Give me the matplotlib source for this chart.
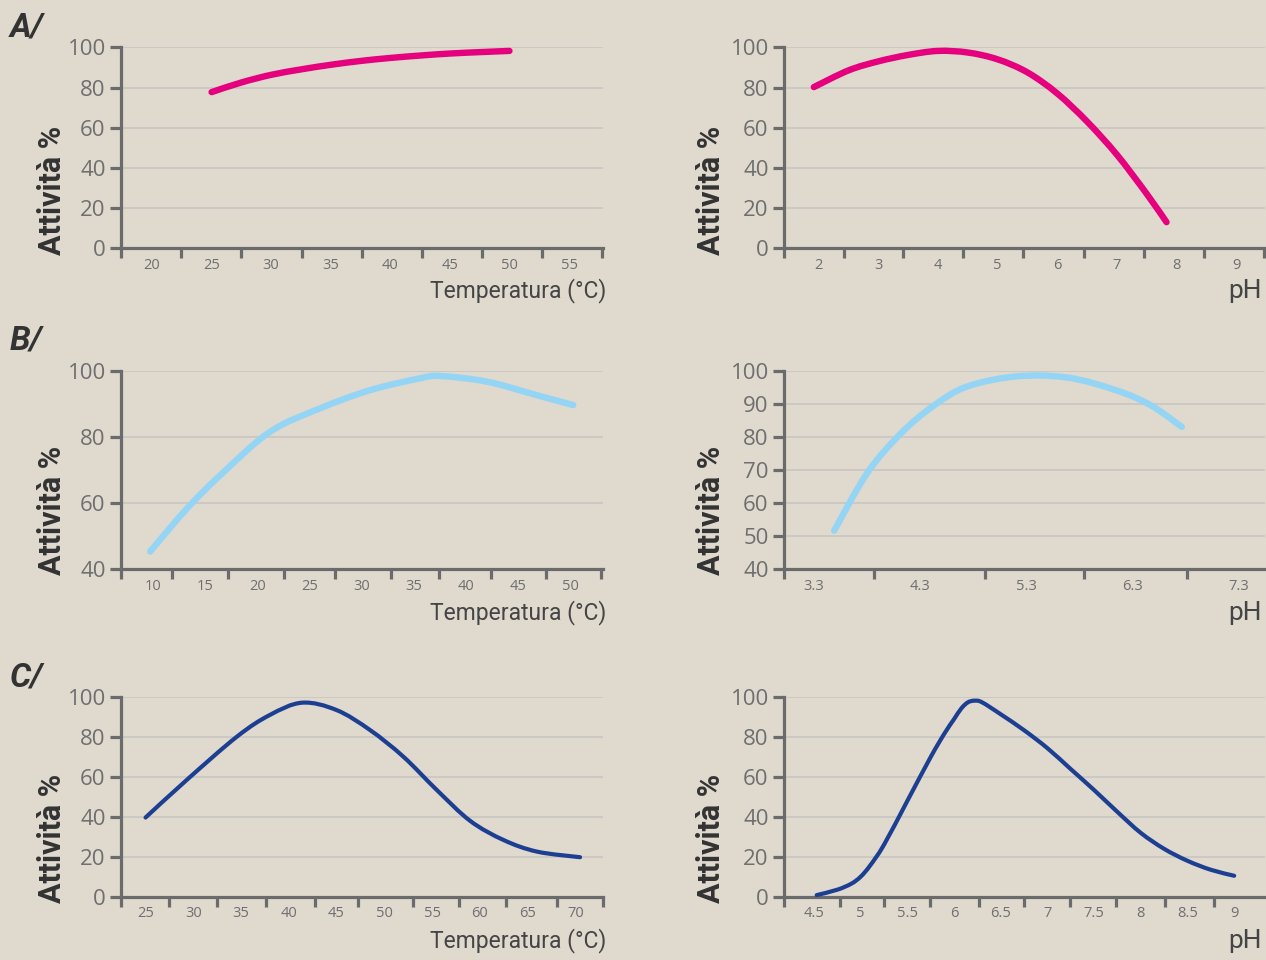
import matplotlib
matplotlib.use("Agg")
import matplotlib.pyplot as plt
import numpy as np
from matplotlib.path import Path
from matplotlib.patches import PathPatch
from matplotlib.ticker import FixedLocator, NullFormatter

# Data
a_temp_x = [25.0, 27.5, 30.0, 32.5, 35.0, 37.5, 40.0, 42.5, 45.0, 47.5, 50.0]
a_temp_y = [77.7, 82.5, 86.3, 89.0, 91.3, 93.2, 94.7, 95.9, 96.9, 97.6, 98.2]

a_ph_x = [1.92, 2.5, 3.0, 3.5, 4.0, 4.5, 5.0, 5.5, 6.0, 6.5, 7.0, 7.5, 7.83]
a_ph_y = [80.2, 88.5, 93.0, 96.2, 98.2, 97.4, 94.0, 87.5, 77.0, 63.0, 46.5, 27.0, 13.0]

b_temp_x = [9.7, 13.2, 16.4, 21.2, 26.0, 30.8, 35.6, 37.5, 42.0, 46.8, 50.3]
b_temp_y = [45.3, 58.2, 68.3, 81.5, 88.6, 94.1, 97.7, 98.4, 96.7, 92.6, 89.6]

b_ph_x = [3.49, 3.8, 4.12, 4.43, 4.74, 5.21, 5.69, 6.15, 6.47, 6.76]
b_ph_y = [51.6, 69.0, 81.1, 89.5, 95.2, 98.3, 97.9, 94.0, 89.5, 83.0]

c_temp_x = [25.0, 29.3, 34.55, 38.0, 41.4, 45.0, 48.5, 52.0, 55.5, 59.0, 62.5, 66.0, 70.5]
c_temp_y = [39.7, 58.5, 80.2, 91.1, 97.3, 93.6, 83.6, 70.2, 53.5, 38.0, 28.4, 22.6, 19.8]

c_ph_x = [4.53, 4.75, 4.9, 5.0, 5.1, 5.25, 5.5, 5.75, 5.9, 6.0, 6.08, 6.15, 6.22, 6.3, 6.5,
          6.75, 7.0, 7.25, 7.5, 7.75, 8.0, 8.25, 8.5, 8.75, 9.0]
c_ph_y = [0.8, 3.5, 6.5, 10.0, 15.5, 26.0, 48.0, 70.0, 82.0, 89.0, 94.5, 97.5, 98.3, 97.5, 91.5,
          83.5, 74.5, 64.0, 53.5, 42.5, 32.0, 24.0, 18.0, 13.5, 10.5]

# tick labels and tick mark positions (marks sit between labels)
a_temp_labels = [20, 25, 30, 35, 40, 45, 50, 55]
a_temp_marks = [17.4, 22.45, 27.5, 32.55, 37.6, 42.65, 47.7, 52.75, 57.8]
a_ph_labels = [2, 3, 4, 5, 6, 7, 8, 9]
a_ph_marks = [1.42, 2.42, 3.42, 4.42, 5.43, 6.44, 7.46, 8.46, 9.46]
b_temp_labels = [10, 15, 20, 25, 30, 35, 40, 45, 50]
b_temp_marks = [6.9, 11.82, 17.2, 22.57, 27.46, 32.83, 37.41, 42.37, 47.67, 53.0]
b_ph_labels = [3.3, 4.3, 5.3, 6.3, 7.3]
b_ph_marks = [3.02, 3.86, 4.91, 5.84, 6.81]
c_temp_labels = [25, 30, 35, 40, 45, 50, 55, 60, 65, 70]
c_temp_marks = [22.43, 27.5, 32.46, 37.6, 42.75, 47.2, 53.0, 57.86, 62.75, 68.06, 72.9]
c_ph_labels = [4.5, 5, 5.5, 6, 6.5, 7, 7.5, 8, 8.5, 9]
c_ph_marks = [4.18, 4.78, 5.25, 5.74, 6.27, 6.75, 7.24, 7.73, 8.26, 8.78]

bg = '#dfd9ce'
spine_col = '#6b6b6b'
tick_txt = '#6f6f6f'
dark = '#333333'
W, H = 1266, 960

fig = plt.figure(figsize=(W / 100, H / 100), dpi=100, facecolor=bg)


def px_rect(x0, y0, x1, y1):
    return [x0 / W, 1 - y1 / H, (x1 - x0) / W, (y1 - y0) / H]


def smooth_path(x, y):
    # smoothed line through the points (bezier segments, like the original chart)
    p = np.column_stack([x, y])
    n = len(p)
    verts = [p[0]]
    codes = [Path.MOVETO]
    for i in range(n - 1):
        p0 = p[i - 1] if i > 0 else p[i]
        p3 = p[i + 2] if i + 2 < n else p[i + 1]
        c1 = p[i] + (p[i + 1] - p0) / 6
        c2 = p[i + 1] - (p3 - p[i]) / 6
        verts += [c1, c2, p[i + 1]]
        codes += [Path.CURVE4] * 3
    return Path(verts, codes)


def make_panel(rect, x, y, color, lw, xlim, ylim, yticks, labels, marks, fmt):
    ax = fig.add_axes(rect)
    ax.set_facecolor(bg)
    ax.add_patch(PathPatch(smooth_path(x, y), facecolor='none', edgecolor=color,
                           linewidth=lw, capstyle='round', joinstyle='round', zorder=3))
    ax.set_xlim(*xlim)
    ax.set_ylim(*ylim)
    for s in ['top', 'right']:
        ax.spines[s].set_visible(False)
    for s in ['left', 'bottom']:
        ax.spines[s].set_color(spine_col)
        ax.spines[s].set_linewidth(2.3)
    ax.set_yticks(yticks)
    ax.set_yticklabels([str(v) for v in yticks], fontsize=16, color=tick_txt,
                       family='Open Sans')
    ax.tick_params(axis='y', length=8, width=2.3, color=spine_col, pad=3)
    ax.grid(axis='y', color='#c9c6c2', linewidth=1.2, zorder=0)
    ax.xaxis.set_major_locator(FixedLocator(labels))
    ax.set_xticklabels([fmt(v) for v in labels], fontsize=10.5, color=tick_txt,
                       family='Open Sans')
    ax.tick_params(axis='x', which='major', length=0, pad=7)
    ax.xaxis.set_minor_locator(FixedLocator(marks))
    ax.xaxis.set_minor_formatter(NullFormatter())
    ax.tick_params(axis='x', which='minor', length=7, width=2.3, color=spine_col)
    return ax


lx0, lx1 = 121, 603
rx0, rx1 = 784, 1265
rows = [(47.3, 248.3), (370.7, 569.0), (697.3, 896.7)]
pink, light_blue, navy = '#e5007d', '#94d5f5', '#1d3f91'

make_panel(px_rect(lx0, rows[0][0], lx1, rows[0][1]),
           a_temp_x, a_temp_y, pink, 4.6, (17.4, 57.85), (0, 100),
           [0, 20, 40, 60, 80, 100], a_temp_labels, a_temp_marks, lambda v: str(v))
make_panel(px_rect(rx0, rows[0][0], rx1, rows[0][1]),
           a_ph_x, a_ph_y, pink, 4.6, (1.42, 9.48), (0, 100),
           [0, 20, 40, 60, 80, 100], a_ph_labels, a_ph_marks, lambda v: str(v))
make_panel(px_rect(lx0, rows[1][0], lx1, rows[1][1]),
           b_temp_x, b_temp_y, light_blue, 4.6, (6.9, 53.16), (40, 100),
           [40, 60, 80, 100], b_temp_labels, b_temp_marks, lambda v: str(v))
make_panel(px_rect(rx0, rows[1][0], rx1, rows[1][1]),
           b_ph_x, b_ph_y, light_blue, 4.6, (3.018, 7.543), (40, 100),
           [40, 50, 60, 70, 80, 90, 100], b_ph_labels, b_ph_marks, lambda v: f"{v:.1f}")
make_panel(px_rect(lx0, rows[2][0], lx1, rows[2][1]),
           c_temp_x, c_temp_y, navy, 3.0, (22.43, 72.9), (0, 100),
           [0, 20, 40, 60, 80, 100], c_temp_labels, c_temp_marks, lambda v: str(v))
make_panel(px_rect(rx0, rows[2][0], rx1, rows[2][1]),
           c_ph_x, c_ph_y, navy, 3.0, (4.18, 9.33), (0, 100),
           [0, 20, 40, 60, 80, 100], c_ph_labels, c_ph_marks, lambda v: f"{v:g}")

# Texts
ylab_centres = [190, 510, 838]
for yc in ylab_centres:
    for xc in [52, 711]:
        fig.text(xc / W, 1 - yc / H, 'Attività %', rotation=90, ha='center',
                 va='center', fontsize=22, fontweight='bold', color=dark,
                 family='Roboto')

xlab_centres = [291, 613, 941]
for yc in xlab_centres:
    fig.text(606 / W, 1 - yc / H, 'Temperatura (°C)', ha='right', va='center',
             fontsize=16.5, color='#454545', family='Roboto')
    fig.text(1262 / W, 1 - yc / H, 'pH', ha='right', va='center',
             fontsize=19, color='#454545', family='Roboto')

for letter, yc in [('A/', 28), ('B/', 340), ('C/', 678)]:
    fig.text(10 / W, 1 - yc / H, letter, ha='left', va='center', fontsize=24,
             fontweight='bold', fontstyle='italic', color=dark, family='Roboto')

fig.savefig('out.png', dpi=100, facecolor=bg)
